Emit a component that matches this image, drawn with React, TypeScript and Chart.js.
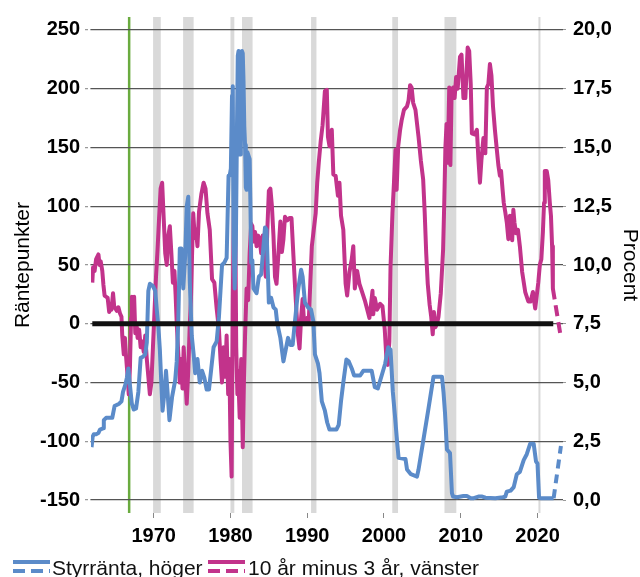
import React, { useEffect, useRef } from 'react';
import { Chart, registerables } from 'chart.js';

Chart.register(...registerables);

// ---------- data ----------
const recessionStart = [1969.92, 1973.83, 1980.0, 1981.5, 1990.5, 2001.08, 2007.88, 2020.12];
const recessionEnd = [1970.92, 1975.2, 1980.5, 1982.88, 1991.2, 2001.83, 2009.42, 2020.38];
const markerYear = 1966.8;

const leftTicks = [-150, -100, -50, 0, 50, 100, 150, 200, 250];
const rightTicks = [0, 2.5, 5, 7.5, 10, 12.5, 15, 17.5, 20];
const yearTicks = [1970, 1980, 1990, 2000, 2010, 2020];

const zeroYears = [1962.0, 2022.05];
const zeroValues = [0, 0];

// Styrränta (right axis, %)
const policyYears = [
  1961.9, 1962.05, 1962.2, 1962.5, 1962.8, 1963.0, 1963.4, 1963.5, 1963.8, 1964.6, 1964.9, 1965.5, 1965.8,
  1966.0, 1966.3, 1966.5, 1966.7, 1966.9, 1967.15, 1967.4, 1967.7, 1968.0, 1968.3, 1968.6, 1968.9, 1969.1,
  1969.3, 1969.5, 1969.9, 1970.2, 1970.4, 1970.6, 1970.8, 1971.0, 1971.15, 1971.4, 1971.6, 1971.8, 1972.05,
  1972.4, 1972.8, 1973.0, 1973.2, 1973.4, 1973.6, 1973.85, 1974.1, 1974.3, 1974.5, 1974.7, 1974.95, 1975.2,
  1975.4, 1975.7, 1976.0, 1976.3, 1976.6, 1976.9, 1977.2, 1977.5, 1977.8, 1978.2, 1978.5, 1978.9, 1979.2,
  1979.5, 1979.75, 1979.9, 1980.05, 1980.2, 1980.3, 1980.4, 1980.55, 1980.7, 1980.85, 1980.95, 1981.05,
  1981.15, 1981.25, 1981.35, 1981.4, 1981.5, 1981.6, 1981.7, 1981.8, 1981.9, 1982.0, 1982.1, 1982.2, 1982.5,
  1982.6, 1982.7, 1982.85, 1983.0, 1983.4, 1983.7, 1984.0, 1984.5, 1984.7, 1985.0, 1985.3, 1985.6, 1985.9,
  1986.1, 1986.5, 1986.9, 1987.2, 1987.5, 1987.8, 1988.1, 1988.4, 1988.8, 1989.2, 1989.4, 1989.7, 1990.1,
  1990.5, 1990.8, 1991.0, 1991.4, 1991.6, 1991.9, 1992.3, 1992.6, 1992.9, 1993.8, 1994.1, 1994.4, 1994.7,
  1995.1, 1995.4, 1995.8, 1996.1, 1996.9, 1997.3, 1998.4, 1998.8, 1999.2, 1999.7, 2000.15, 2000.55, 2000.85,
  2001.15, 2001.45, 2001.7, 2001.9, 2002.8, 2003.0, 2003.5, 2004.3, 2004.5, 2005.1, 2005.8, 2006.45, 2007.55,
  2007.75, 2007.95, 2008.2, 2008.6, 2008.85, 2009.0, 2009.5, 2010.35, 2010.8, 2011.3, 2011.7, 2012.3, 2012.8,
  2013.2, 2014.5, 2015.5, 2015.8, 2016.0, 2016.5, 2016.9, 2017.3, 2017.7, 2018.2, 2018.6, 2019.05, 2019.5,
  2019.8, 2020.0, 2020.2, 2020.5, 2022.1,
];
const policyRate = [
  2.25, 2.7, 2.8, 2.8, 2.85, 3.0, 3.05, 3.4, 3.5, 3.5, 4.0, 4.1, 4.2,
  4.6, 4.9, 5.2, 5.6, 4.9, 4.1, 3.85, 3.9, 4.6, 6.05, 6.1, 6.2, 6.7,
  8.9, 9.2, 9.1, 8.9, 8.1, 7.4, 6.4, 4.9, 3.8, 4.6, 5.5, 4.6, 3.4,
  4.4, 5.1, 5.9, 7.6, 10.7, 10.7, 9.0, 10.4, 12.5, 12.9, 9.3, 7.0, 6.2,
  5.4, 6.0, 5.0, 5.5, 5.2, 4.7, 4.7, 5.6, 6.5, 6.75, 7.8, 10.0, 10.1,
  10.3, 13.8, 13.8, 14.1, 17.2, 17.6, 11.0, 9.0, 10.9, 15.9, 18.9, 19.1,
  16.6, 14.7, 15.7, 18.5, 19.1, 19.0, 17.8, 15.9, 15.1, 13.3, 13.2, 14.8, 14.5,
  12.6, 10.1, 10.2, 9.0, 8.8, 9.5, 9.6, 11.6, 11.5, 8.4, 8.6, 8.2, 8.1,
  7.5, 6.9, 5.9, 6.4, 6.9, 6.6, 6.6, 7.6, 8.9, 9.8, 9.5, 8.4, 8.2,
  8.1, 7.6, 6.2, 5.8, 5.4, 4.2, 3.8, 3.3, 3.0, 3.0, 3.2, 4.2, 5.0,
  5.98, 5.9, 5.6, 5.3, 5.3, 5.5, 5.5, 4.8, 4.75, 5.3, 5.8, 6.5, 6.4,
  4.6, 3.5, 2.5, 1.8, 1.75, 1.3, 1.1, 1.0, 1.3, 2.5, 3.9, 5.25, 5.25,
  4.6, 3.7, 2.15, 2.0, 0.3, 0.15, 0.12, 0.17, 0.17, 0.08, 0.08, 0.15, 0.15,
  0.1, 0.08, 0.12, 0.15, 0.36, 0.4, 0.55, 1.1, 1.2, 1.7, 1.95, 2.4, 2.4,
  1.65, 1.55, 0.1, 0.08, 0.08,
];
const policyForecastYears = [2022.1, 2023.05];
const policyForecast = [0.08, 2.3];

// 10 år minus 3 år (left axis, räntepunkter)
const spreadYears = [
  1962.0, 1962.1, 1962.3, 1962.5, 1962.8, 1962.95, 1963.1, 1963.3, 1963.45, 1963.6, 1963.8, 1964.0, 1964.2,
  1964.35, 1964.5, 1964.7, 1964.85, 1965.0, 1965.2, 1965.4, 1965.6, 1965.8, 1965.9, 1966.1, 1966.25, 1966.4,
  1966.6, 1966.75, 1966.9, 1967.05, 1967.15, 1967.3, 1967.45, 1967.6, 1967.75, 1967.9, 1968.1, 1968.3, 1968.5,
  1968.7, 1968.9, 1969.1, 1969.3, 1969.5, 1969.7, 1969.9, 1970.1, 1970.3, 1970.5, 1970.7, 1970.9, 1971.1,
  1971.3, 1971.5, 1971.7, 1971.9, 1972.1, 1972.3, 1972.5, 1972.7, 1972.85, 1973.0, 1973.2, 1973.4, 1973.6,
  1973.75, 1973.9, 1974.1, 1974.3, 1974.5, 1974.7, 1974.85, 1975.0, 1975.15, 1975.35, 1975.5, 1975.7, 1975.9,
  1976.2, 1976.5, 1976.75, 1977.0, 1977.3, 1977.6, 1977.9, 1978.2, 1978.5, 1978.7, 1978.9, 1979.1, 1979.3,
  1979.5, 1979.7, 1979.85, 1980.0, 1980.15, 1980.3, 1980.45, 1980.6, 1980.75, 1980.9, 1981.0, 1981.2, 1981.4,
  1981.6, 1981.75, 1981.9, 1982.1, 1982.3, 1982.5, 1982.7, 1982.85, 1983.0, 1983.2, 1983.4, 1983.6, 1983.8,
  1984.0, 1984.2, 1984.4, 1984.6, 1984.8, 1985.0, 1985.2, 1985.4, 1985.6, 1985.8, 1986.0, 1986.2, 1986.5,
  1986.7, 1986.9, 1987.1, 1987.4, 1987.7, 1987.95, 1988.2, 1988.45, 1988.6, 1988.8, 1989.0, 1989.2, 1989.4,
  1989.6, 1989.8, 1990.0, 1990.2, 1990.4, 1990.6, 1990.85, 1991.1, 1991.3, 1991.5, 1991.75, 1992.0, 1992.3,
  1992.55, 1992.7, 1992.9, 1993.2, 1993.4, 1993.7, 1994.0, 1994.2, 1994.4, 1994.7, 1995.0, 1995.2, 1995.5,
  1995.8, 1996.0, 1996.2, 1996.5, 1996.8, 1997.1, 1997.5, 1997.9, 1998.1, 1998.3, 1998.5, 1998.6, 1998.8,
  1999.1, 1999.5, 1999.8, 2000.1, 2000.3, 2000.5, 2000.7, 2000.85, 2001.1, 2001.3, 2001.5, 2001.65, 2001.85,
  2002.1, 2002.3, 2002.6, 2003.0, 2003.2, 2003.4, 2003.6, 2003.8, 2004.1, 2004.5, 2004.8, 2005.1, 2005.3,
  2005.5, 2005.7, 2005.95, 2006.15, 2006.35, 2006.5, 2006.7, 2006.9, 2007.1, 2007.4, 2007.7, 2007.85, 2008.0,
  2008.15, 2008.3, 2008.5, 2008.65, 2008.8, 2009.0, 2009.2, 2009.4, 2009.6, 2009.9, 2010.1, 2010.35, 2010.6,
  2010.9, 2011.1, 2011.3, 2011.45, 2011.8, 2012.1, 2012.3, 2012.5, 2012.7, 2012.95, 2013.2, 2013.4, 2013.6,
  2013.8, 2014.0, 2014.2, 2014.45, 2014.7, 2014.9, 2015.1, 2015.25, 2015.45, 2015.6, 2015.8, 2016.0, 2016.2,
  2016.4, 2016.7, 2016.85, 2017.0, 2017.2, 2017.45, 2017.7, 2018.0, 2018.4, 2018.8, 2019.1, 2019.4, 2019.7,
  2019.9, 2020.1, 2020.3, 2020.5, 2020.7, 2020.85, 2020.95, 2021.2, 2021.4, 2021.6, 2021.75, 2021.9, 2022.0,
];
const spread = [
  35, 48, 45, 55, 59, 50, 53, 45, 33, 24, 23, 22, 10,
  14, 12, 26, 15, 13, 11, 14, 9, 6, -10, -26, -12, -28,
  -45, -60, -38, 5, 23, 10, 23, -8, 0, -12, -5, -20, -15,
  -24, -10, -30, -45, -60, -50, -20, 10, 40, 63, 90, 115, 120,
  90, 60, 50, 75, 83, 60, 35, 45, 25, 0, -25, -50, -30,
  -55, -20, -45, -68, -40, 0, 20, 60, 94, 73, 80, 66, 95,
  110, 120, 115, 94, 80, 38, 35, 13, -5, -30, -50, -20, -45,
  -10, -60, -30, -100, -130, 20, 100, 115, -20, -60, -40, -80, -30,
  -105, -50, -10, 30, 20, 60, 85, 83, 70, 78, 66, 75, 72,
  60, 75, 55, 40, 80, 113, 115, 100, 75, 40, 34, 55, 87,
  61, 72, 91, 88, 90, 90, 58, 27, 10, -10, -21, 5, 21,
  0, 3, 5, 2, 35, 66, 80, 94, 120, 137, 155, 169, 198,
  199, 159, 151, 165, 127, 126, 109, 120, 92, 80, 34, 24, 44,
  55, 66, 30, 45, 34, 28, 20, 10, 5, 16, 28, 8, 22,
  12, 17, 15, -5, -28, -35, -15, 48, 94, 120, 148, 114, 151,
  165, 173, 182, 185, 190, 203, 201, 188, 182, 159, 139, 123, 95,
  60, 34, 16, 6, -9, 10, -3, 0, 6, 26, 63, 103, 150,
  170, 137, 201, 135, 193, 201, 192, 210, 200, 227, 229, 192, 192,
  235, 232, 204, 162, 161, 165, 140, 120, 140, 158, 145, 201, 204,
  221, 211, 185, 165, 148, 135, 126, 130, 114, 103, 95, 86, 72,
  92, 71, 97, 86, 77, 80, 66, 44, 27, 19, 19, 27, 13,
  24, 35, 50, 55, 78, 103, 130, 130, 122, 103, 92, 66, 30,
];
const spreadForecastYears = [2022.0, 2023.0];
const spreadForecast = [30, -10];

// ---------- styling ----------
const BLUE = '#5b8bc9';
const MAGENTA = '#c2338b';
const GREEN = '#6aab3f';
const BAND = '#d9d9d9';
const FONT = "'Liberation Sans', Arial, sans-serif";

const pts = (xs: number[], ys: number[]) => xs.map((x, i) => ({ x, y: ys[i] }));

const backgroundPlugin = {
  id: 'bands',
  beforeDraw(chart: any) {
    const { ctx, chartArea, scales } = chart;
    const xs = scales.x;
    ctx.save();
    ctx.fillStyle = BAND;
    for (let i = 0; i < recessionStart.length; i++) {
      const a = xs.getPixelForValue(recessionStart[i]);
      const b = xs.getPixelForValue(recessionEnd[i]);
      ctx.fillRect(a, chartArea.top, b - a, chartArea.bottom - chartArea.top);
    }
    const gx = xs.getPixelForValue(markerYear);
    ctx.strokeStyle = GREEN;
    ctx.lineWidth = 2.5;
    ctx.beginPath();
    ctx.moveTo(gx, chartArea.top);
    ctx.lineTo(gx, chartArea.bottom);
    ctx.stroke();
    ctx.restore();
  },
};

const LegendIcon = ({ color }: { color: string }) => (
  <svg width={37} height={16} style={{ display: 'block' }}>
    <line x1={0} y1={3} x2={37} y2={3} stroke={color} strokeWidth={4} />
    <line x1={0} y1={12} x2={37} y2={12} stroke={color} strokeWidth={4} strokeDasharray="12 6" />
  </svg>
);

export default function App() {
  const canvasRef = useRef<HTMLCanvasElement | null>(null);

  useEffect(() => {
    document.body.style.margin = '0';
    const canvas = canvasRef.current;
    if (!canvas) return;
    const lineBase = { pointRadius: 0, pointHoverRadius: 0, tension: 0, fill: false };
    const chart = new Chart(canvas, {
      type: 'line',
      data: {
        datasets: [
          {
            ...lineBase,
            label: 'zero',
            data: pts(zeroYears, zeroValues),
            borderColor: '#111111',
            borderWidth: 5,
            yAxisID: 'y',
          },
          {
            ...lineBase,
            label: 'Styrränta prognos',
            data: pts(policyForecastYears, policyForecast),
            borderColor: BLUE,
            borderWidth: 4,
            borderDash: [9, 6],
            yAxisID: 'y2',
          },
          {
            ...lineBase,
            label: 'Styrränta, höger',
            data: pts(policyYears, policyRate),
            borderColor: BLUE,
            borderWidth: 4,
            borderJoinStyle: 'round',
            yAxisID: 'y2',
          },
          {
            ...lineBase,
            label: '10 år prognos',
            data: pts(spreadForecastYears, spreadForecast),
            borderColor: MAGENTA,
            borderWidth: 4,
            borderDash: [11, 6],
            yAxisID: 'y',
          },
          {
            ...lineBase,
            label: '10 år minus 3 år, vänster',
            data: pts(spreadYears, spread),
            borderColor: MAGENTA,
            borderWidth: 4,
            borderJoinStyle: 'round',
            yAxisID: 'y',
          },
        ],
      },
      options: {
        responsive: false,
        animation: false,
        devicePixelRatio: 1,
        layout: { padding: { top: 13, bottom: 24, left: 0, right: 0 } },
        plugins: { legend: { display: false }, tooltip: { enabled: false }, title: { display: false } },
        scales: {
          x: {
            type: 'linear',
            min: 1961.83,
            max: 2023.32,
            afterBuildTicks: (s: any) => {
              s.ticks = yearTicks.map((v) => ({ value: v }));
            },
            afterFit: (s: any) => {
              s.height = 40;
            },
            ticks: {
              autoSkip: false,
              maxRotation: 0,
              padding: 6,
              color: '#000',
              font: { family: FONT, size: 20, weight: 'bold' },
              callback: (v: any) => String(v),
            },
            grid: { drawOnChartArea: false, drawTicks: true, tickLength: 5, color: '#888', lineWidth: 1 },
            border: { display: false },
          },
          y: {
            type: 'linear',
            position: 'left',
            min: -161,
            max: 261,
            afterBuildTicks: (s: any) => {
              s.ticks = leftTicks.map((v) => ({ value: v }));
            },
            afterFit: (s: any) => {
              s.width = 91;
            },
            ticks: {
              padding: 5,
              color: '#000',
              font: { family: FONT, size: 20, weight: 'bold' },
              callback: (v: any) => String(v),
            },
            grid: {
              color: '#555',
              lineWidth: 1.3,
              tickLength: 6,
              tickColor: '#999',
              tickBorderDash: [3, 2],
            },
            border: { display: false },
            title: {
              display: true,
              text: 'Räntepunkter',
              color: '#000',
              font: { family: FONT, size: 21, weight: 'normal', lineHeight: 1.2 },
              padding: { top: 11, bottom: 0 },
            },
          },
          y2: {
            type: 'linear',
            position: 'right',
            min: -0.55,
            max: 20.55,
            afterBuildTicks: (s: any) => {
              s.ticks = rightTicks.map((v) => ({ value: v }));
            },
            afterFit: (s: any) => {
              s.width = 77;
            },
            ticks: {
              padding: 5,
              color: '#000',
              font: { family: FONT, size: 20, weight: 'bold' },
              callback: (v: any) => Number(v).toFixed(1).replace('.', ','),
            },
            grid: {
              drawOnChartArea: false,
              tickLength: 5,
              tickColor: '#999',
              tickBorderDash: [3, 2],
            },
            border: { display: false },
            title: {
              display: true,
              text: 'Procent',
              color: '#000',
              font: { family: FONT, size: 21, weight: 'normal', lineHeight: 1 },
              padding: { top: 0, bottom: 0 },
            },
          },
        },
      },
      plugins: [backgroundPlugin],
    } as any);
    return () => chart.destroy();
  }, []);

  const textStyle: React.CSSProperties = {
    position: 'absolute',
    top: 557,
    fontFamily: FONT,
    fontSize: 21,
    lineHeight: '21px',
    color: '#111',
    whiteSpace: 'nowrap',
  };

  return (
    <div style={{ position: 'relative', width: 640, height: 577, overflow: 'hidden', background: '#fff' }}>
      <canvas ref={canvasRef} width={640} height={577} style={{ display: 'block', width: 640, height: 577 }} />
      <div style={{ position: 'absolute', left: 13, top: 559 }}>
        <LegendIcon color={BLUE} />
      </div>
      <div style={{ ...textStyle, left: 52 }}>Styrränta, höger</div>
      <div style={{ position: 'absolute', left: 208, top: 559 }}>
        <LegendIcon color={MAGENTA} />
      </div>
      <div style={{ ...textStyle, left: 248 }}>10 år minus 3 år, vänster</div>
    </div>
  );
}
